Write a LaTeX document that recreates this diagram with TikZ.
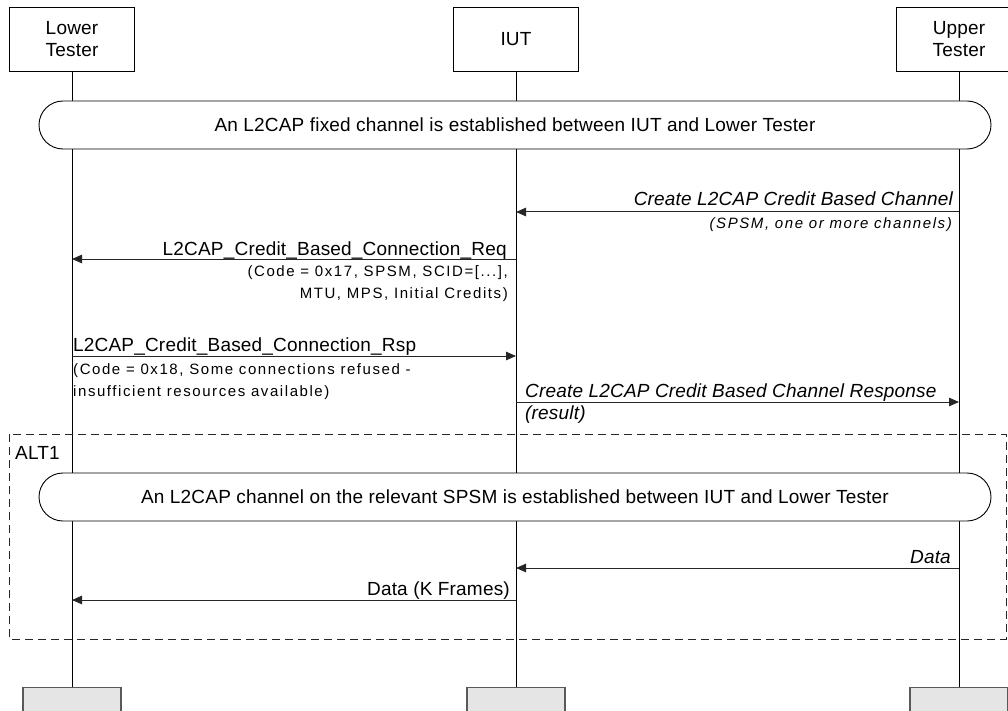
\documentclass[tikz,border=0pt]{standalone}
\usepackage{fontspec}
\setmainfont{Liberation Sans}
\newfontfamily\mainf{Liberation Sans}[LetterSpace=1]
\newfontfamily\subf{Liberation Sans}[LetterSpace=10.5]
\usetikzlibrary{arrows.meta}
\tikzset{
  lblmain/.style={font=\mainf\fontsize{19}{22}\selectfont, inner sep=0pt},
  lblmainit/.style={font=\mainf\fontsize{19}{22}\selectfont\itshape, inner sep=0pt},
  lblsub/.style={font=\subf\fontsize{15}{22}\selectfont, inner sep=0pt},
  lblsubit/.style={font=\subf\fontsize{15}{22}\selectfont\itshape, inner sep=0pt},
  headbox/.style={lblmain, draw=black, fill=white, line width=0.9pt, minimum width=125pt, minimum height=64pt, align=center},
  footbox/.style={draw=black!65, fill=black!10, line width=1.1pt, minimum width=98pt, minimum height=40pt, anchor=north, inner sep=0pt},
  lifeline/.style={line width=0.9pt, black},
  msgarrow/.style={line width=1pt, black!85, -{Triangle[length=10pt,width=8.5pt]}},
  ovalbox/.style={lblmain, draw=black, fill=white, line width=0.9pt, rounded corners=24pt, minimum width=952pt, minimum height=48pt},
  altframe/.style={draw=black!85, line width=0.9pt, dash pattern=on 8pt off 5pt},
}
\begin{document}
\begin{tikzpicture}[x=1pt,y=-1pt]
\useasboundingbox (0,0) rectangle (1008,711);
\clip (0,0) rectangle (1008,711);

% participants
\node[headbox] (LT)  at (72,39)  {Lower\\Tester};
\node[headbox] (IUT) at (516,39) {IUT};
\node[headbox] (UT)  at (959,39) {Upper\\Tester};
\node[footbox] (LTf)  at (72,687)  {};
\node[footbox] (IUTf) at (516,687) {};
\node[footbox] (UTf)  at (959,687) {};

% lifelines
\draw[lifeline] (LT.south) -- (LTf.north);
\draw[lifeline] (IUT.south) -- (IUTf.north);
\draw[lifeline] (UT.south) -- (UTf.north);

% fixed channel
\node[ovalbox] (fix) at (515,125) {An L2CAP fixed channel is established between IUT and Lower Tester};

% message 1
\coordinate (m1s) at (959,212);
\coordinate (m1e) at (516,212);
\draw[msgarrow] (m1s) -- (m1e);
\node[lblmainit, anchor=base east] (m1l) at (953,206) {Create L2CAP Credit Based Channel};
\node[lblsubit, anchor=base east] (m1p) at (952,229) {(SPSM, one or more channels)};

% message 2
\coordinate (m2s) at (516,259);
\coordinate (m2e) at (72,259);
\draw[msgarrow] (m2s) -- (m2e);
\node[lblmain, anchor=base east] (m2l) at (507,255) {L2CAP\_Credit\_Based\_Connection\_Req};
\node[lblsub, anchor=base east] (m2p1) at (508,276) {(Code = 0x17, SPSM, SCID=[...],};
\node[lblsub, anchor=base east] (m2p2) at (508,298) {MTU, MPS, Initial Credits)};

% message 3
\coordinate (m3s) at (72,356);
\coordinate (m3e) at (516,356);
\draw[msgarrow] (m3s) -- (m3e);
\node[lblmain, anchor=base west] (m3l) at (73,351) {L2CAP\_Credit\_Based\_Connection\_Rsp};
\node[lblsub, anchor=base west] (m3p1) at (73,374) {(Code = 0x18, Some connections refused -};
\node[lblsub, anchor=base west] (m3p2) at (73,396) {insufficient resources available)};

% message 4
\coordinate (m4s) at (516,402);
\coordinate (m4e) at (959,402);
\draw[msgarrow] (m4s) -- (m4e);
\node[lblmainit, anchor=base west] (m4l) at (525,397) {Create L2CAP Credit Based Channel Response};
\node[lblmainit, anchor=base west] (m4p) at (525,419) {(result)};

% ALT1 frame
\draw[altframe] (9,434) rectangle (1006,639);
\node[lblmain, anchor=base west] (alt1) at (15,459) {ALT1};
\node[ovalbox] (altoval) at (515,497) {An L2CAP channel on the relevant SPSM is established between IUT and Lower Tester};

% message 5
\coordinate (m5s) at (959,568);
\coordinate (m5e) at (516,568);
\draw[msgarrow] (m5s) -- (m5e);
\node[lblmainit, anchor=base east] (m5l) at (951,563) {Data};

% message 6
\coordinate (m6s) at (516,600);
\coordinate (m6e) at (72,600);
\draw[msgarrow] (m6s) -- (m6e);
\node[lblmain, anchor=base east] (m6l) at (510,595) {Data (K Frames)};
\end{tikzpicture}
\end{document}
